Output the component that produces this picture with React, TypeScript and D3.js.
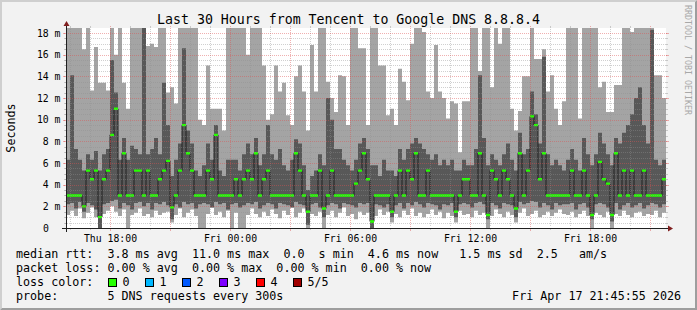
import React from "react";
import * as d3 from "d3";

const WIDTH = 697;
const HEIGHT = 310;
const PLOT = { left: 66, right: 666, top: 28, bottom: 228 };
const Y_MAX = 18.46;
const START = new Date(2026, 3, 16, 15, 48);
const END = new Date(2026, 3, 17, 21, 48);
const STEP_MIN = 12;

// round-trip times in ms, one column per 12 minutes (5 pings: min, 2nd, median, 4th, max)
const rttMedian = [
  3.0, 3.0, 3.0, 3.0, 2.0, 5.3, 4.5, 5.3, 1.0, 4.5, 5.3, 8.6, 11.0, 3.0, 6.9, 3.0, 3.0, 5.3, 5.3, 3.0, 5.3, 3.0, 3.0, 4.5, 5.3,
  6.2, 1.9, 3.0, 5.3, 9.5, 6.9, 5.3, 3.0, 3.0, 3.0, 5.3, 4.5, 8.6, 3.0, 3.0, 3.0, 3.0, 4.5, 3.0, 4.5, 5.3, 4.5, 6.9, 3.0, 4.5,
  5.3, 3.0, 3.0, 3.0, 3.0, 3.0, 3.0, 6.9, 5.3, 3.0, 1.5, 3.0, 3.0, 5.3, 1.8, 3.0, 5.3, 3.0, 3.0, 3.0, 3.0, 3.0, 4.1, 5.3, 6.9,
  4.5, 0.6, 3.0, 3.0, 3.0, 3.0, 1.5, 3.0, 5.3, 3.0, 5.3, 4.5, 6.9, 3.0, 3.0, 5.3, 3.0, 3.0, 3.0, 3.0, 3.0, 3.0, 1.5, 3.0, 4.5,
  4.5, 3.0, 3.0, 6.9, 3.0, 1.2, 5.3, 4.5, 3.0, 5.3, 4.5, 3.0, 1.8, 6.9, 3.0, 5.3, 10.3, 9.5, 4.5, 6.9, 3.0, 3.0, 3.0, 3.0, 3.0,
  3.0, 5.3, 3.0, 3.0, 5.3, 3.0, 1.2, 3.0, 6.1, 4.5, 4.1, 1.2, 6.9, 3.0, 5.3, 3.0, 5.3, 3.0, 3.0, 5.3, 3.0, 3.0, 3.0, 3.0, 4.5,
];
const rttMax = [
  19, 19, 19, 19, 16.5, 19, 12.7, 16.7, 13.4, 13.4, 12.7, 19, 16, 19, 13.4, 11, 19, 19, 19, 19, 16.8, 17, 16.7, 19, 19,
  12.5, 13, 11.5, 19, 19, 19, 19, 19, 10, 9.5, 15, 11, 11, 11, 9, 19, 19, 19, 19, 19, 16, 19, 19, 19, 15,
  10, 10.5, 15, 12.6, 13.4, 10.4, 9.5, 14, 15, 12.6, 9, 16.9, 12.6, 19, 19, 13.5, 12, 10.7, 14.1, 14, 9.5, 19, 19, 16.6, 16.6,
  9.5, 19, 19, 15, 15, 10.4, 11, 9.5, 14.7, 13.5, 11.8, 17, 19, 19, 18.1, 12.6, 12, 16.9, 12.6, 12, 10.1, 11.7, 11.5, 7, 11.7,
  11.7, 19, 19, 14.5, 19, 19, 13, 19, 17, 19, 19, 11, 9, 10.8, 14, 14, 19, 15.6, 15.6, 16.5, 12.6, 14.1, 11, 9.5, 11.7,
  19, 19, 19, 10.1, 19, 19, 19, 19, 13, 13.5, 10.7, 10.7, 13.2, 13.2, 19, 19, 18.1, 19, 19, 19, 19, 19, 14.1, 14.1, 12,
];
const rttHigh = [
  6.3, 14.1, 7.3, 6.3, 5.3, 6.8, 6.3, 7.1, 5.3, 6.8, 7.3, 15.5, 12.5, 6.3, 8.3, 6.3, 7.6, 7.3, 6.8, 18.6, 6.8, 7.3, 8.3, 6.8, 13.4,
  9.5, 4.8, 6.3, 7.8, 16.6, 9.0, 7.8, 5.3, 4.8, 5.8, 7.8, 6.3, 9.5, 5.3, 4.8, 6.3, 6.3, 6.3, 5.3, 6.8, 7.8, 6.8, 8.3, 5.8, 6.8,
  9.5, 6.8, 6.3, 7.3, 5.8, 5.3, 6.3, 8.2, 7.8, 5.8, 3.5, 4.8, 5.3, 6.8, 5.8, 12.0, 10.0, 7.3, 7.3, 6.3, 5.8, 5.3, 6.3, 7.8, 8.3,
  7.3, 5.8, 5.8, 4.8, 6.3, 5.3, 5.3, 4.8, 7.3, 6.3, 7.3, 7.8, 8.3, 7.8, 7.3, 6.8, 6.3, 6.8, 5.8, 6.3, 5.8, 6.3, 5.3, 5.3, 6.3,
  5.8, 5.8, 7.3, 14.1, 8.3, 5.8, 6.8, 6.3, 5.8, 6.8, 7.8, 6.3, 5.3, 8.8, 6.8, 7.3, 12.6, 10.5, 7.8, 15.8, 6.8, 5.8, 6.3, 5.8, 5.3,
  6.3, 7.3, 6.3, 5.3, 8.3, 6.8, 5.8, 6.8, 8.8, 7.8, 6.8, 5.8, 8.3, 7.8, 8.8, 9.5, 10.5, 12.0, 13.0, 9.5, 7.8, 18.3, 6.3, 5.8, 6.3,
];
const rttLow = [
  2.2, 2.3, 1.8, 2.4, 1.5, 2.3, 2.1, 1.7, 0.0, 2.2, 2.3, 2.5, 2.6, 1.8, 2.3, 2.1, 1.7, 2.3, 2.4, 2.0, 2.3, 1.7, 2.3, 2.2, 2.4,
  2.1, 0.8, 2.2, 1.9, 2.4, 2.2, 2.3, 1.8, 2.2, 2.3, 2.2, 1.9, 2.4, 2.2, 2.3, 1.7, 2.2, 2.3, 1.9, 2.1, 2.3, 2.2, 2.4, 1.8, 2.1,
  2.3, 2.2, 1.8, 2.3, 2.2, 2.1, 1.9, 2.4, 2.2, 2.1, 0.3, 2.2, 2.3, 1.9, 1.0, 2.1, 2.3, 2.2, 1.8, 2.3, 2.2, 2.1, 1.9, 2.3, 2.2,
  2.3, 0.0, 2.2, 2.1, 1.9, 2.2, 1.0, 2.1, 2.3, 1.8, 2.3, 2.1, 2.4, 2.2, 1.9, 2.3, 2.2, 2.1, 1.7, 2.2, 2.1, 2.3, 1.0, 2.2, 2.3,
  2.2, 1.9, 2.3, 2.4, 2.2, 0.8, 2.3, 2.1, 1.8, 2.3, 2.2, 2.1, 1.0, 2.4, 2.2, 2.3, 2.5, 2.4, 1.9, 2.3, 2.1, 1.7, 2.3, 2.1, 2.2,
  2.2, 2.3, 1.7, 2.2, 2.3, 1.9, 0.8, 2.2, 2.3, 2.2, 1.9, 0.6, 2.3, 1.7, 2.1, 2.3, 1.9, 2.1, 2.3, 1.8, 2.1, 2.3, 2.2, 1.9, 2.2,
];
const rttMin = [
  1.2, 1.6, 1.1, 1.8, 0.9, 1.4, 1.9, 1.0, 0.0, 1.3, 1.6, 2.0, 1.5, 1.1, 1.7, 0.0, 1.2, 1.4, 1.8, 1.1, 1.3, 1.0, 1.6, 1.2, 1.4,
  1.5, 0.5, 1.2, 1.8, 1.0, 1.4, 1.7, 1.1, 0.0, 0.0, 1.3, 1.9, 1.2, 1.5, 1.0, 1.6, 0.0, 1.4, 0.0, 0.0, 1.2, 1.8, 1.3, 1.0, 1.5,
  1.1, 1.7, 1.3, 0.9, 1.6, 1.2, 1.9, 1.0, 1.4, 1.8, 0.0, 1.3, 1.1, 1.5, 0.0, 1.2, 1.6, 1.0, 1.4, 1.9, 1.1, 1.3, 0.8, 1.5, 1.2,
  1.4, 0.0, 1.1, 1.7, 1.2, 1.5, 0.5, 1.3, 1.0, 1.6, 1.2, 1.8, 1.1, 1.4, 1.0, 1.3, 1.7, 1.2, 1.5, 0.9, 1.4, 1.1, 0.5, 1.6, 1.2,
  1.3, 1.0, 1.6, 1.2, 1.4, 0.0, 1.1, 1.7, 1.3, 1.0, 1.5, 1.2, 0.5, 1.4, 1.8, 1.1, 1.3, 1.6, 1.0, 1.2, 1.5, 1.1, 1.4, 1.7, 1.3,
  1.2, 1.5, 1.0, 1.3, 1.6, 1.1, 0.0, 1.4, 1.2, 1.0, 1.5, 0.0, 1.3, 1.1, 1.6, 1.2, 1.0, 1.4, 1.5, 1.1, 1.3, 1.2, 1.6, 1.0, 1.4,
];

const yTickValues = [0, 2, 4, 6, 8, 10, 12, 14, 16, 18];
const yTickLabels = ["0", "2 m", "4 m", "6 m", "8 m", "10 m", "12 m", "14 m", "16 m", "18 m"];

const titleText = "Last 30 Hours from Tencent to Google DNS 8.8.8.4";
const legendLines = [
  "median rtt:  3.8 ms avg  11.0 ms max  0.0  s min  4.6 ms now   1.5 ms sd  2.5   am/s",
  "packet loss: 0.00 % avg  0.00 % max  0.00 % min  0.00 % now",
  "loss color:",
  "probe:       5 DNS requests every 300s",
];
const lossLabels = ["0", "1", "2", "3", "4", "5/5"];
const lossColors = ["#26ff00", "#00b8ff", "#0059ff", "#7e00ff", "#ff0000", "#a00000"];
const timestampText = "Fri Apr 17 21:45:55 2026";

const MONO = "'DejaVu Sans Mono', monospace";

export default function App() {
  const x = d3.scaleTime().domain([START, END]).range([PLOT.left, PLOT.right]);
  const y = d3.scaleLinear().domain([0, Y_MAX]).range([PLOT.bottom, PLOT.top]);
  const n = rttMedian.length;
  const tAt = (i: number) => new Date(START.getTime() + i * STEP_MIN * 60000);
  const v = (arr: number[], i: number) => arr[Math.min(i, arr.length - 1)];
  const idx = d3.range(n + 1);

  const outerArea = d3
    .area<number>()
    .curve(d3.curveStepAfter)
    .x((i) => x(tAt(i)))
    .y0((i) => y(v(rttMin, i)))
    .y1((i) => y(v(rttMax, i)));
  const innerArea = d3
    .area<number>()
    .curve(d3.curveStepAfter)
    .x((i) => x(tAt(i)))
    .y0((i) => y(v(rttLow, i)))
    .y1((i) => y(v(rttHigh, i)));
  const medLine = d3
    .line<number>()
    .curve(d3.curveStepAfter)
    .x((i) => x(tAt(i)))
    .y((i) => y(v(rttMedian, i)));
  const medBand = d3
    .area<number>()
    .curve(d3.curveStepAfter)
    .x((i) => x(tAt(i)))
    .y0((i) => y(v(rttMedian, i)) + 1.2)
    .y1((i) => y(v(rttMedian, i)) - 1.2);

  const minorY = d3.range(0.5, Y_MAX, 0.5).filter((d) => Math.abs(d % 2) > 1e-9);
  const majorY = yTickValues.filter((d) => d > 0);
  const minorX = d3.timeHour.every(1)!.range(START, END).filter((d) => d.getHours() % 3 !== 0);
  const majorX = d3.timeHour.every(3)!.range(START, END);
  const labelX = d3.timeHour.every(6)!.range(START, END);
  const fmt = d3.timeFormat("%a %H:%M");

  const GRID = "rgba(143,143,143,0.42)";
  const MGRID = "rgba(222,79,79,0.45)";
  const L = PLOT.left, R = PLOT.right, T = PLOT.top, B = PLOT.bottom;
  const legendX = 16;
  const py = (d: number) => Math.round(y(d)) + 0.5;
  const px = (d: Date) => Math.round(x(d)) + 0.5;

  return (
    <svg
      width={WIDTH}
      height={HEIGHT}
      viewBox={`0 0 ${WIDTH} ${HEIGHT}`}
      style={{ position: "absolute", left: 0, top: 0, display: "block" }}
      xmlSpace="preserve"
    >
      <defs>
        <clipPath id="plotClip">
          <rect x={L} y={T} width={R - L} height={B - T} />
        </clipPath>
      </defs>
      <rect x={0} y={0} width={WIDTH} height={HEIGHT} fill="#f2f2f2" />
      <polygon points={`0,${HEIGHT} 2,${HEIGHT - 2} 2,2 ${WIDTH - 2},2 ${WIDTH},0 0,0`} fill="#cfcfcf" />
      <polygon
        points={`2,${HEIGHT - 2} ${WIDTH - 2},${HEIGHT - 2} ${WIDTH - 2},2 ${WIDTH},0 ${WIDTH},${HEIGHT} 0,${HEIGHT}`}
        fill="#9e9e9e"
      />
      <rect x={L} y={T} width={R - L} height={B - T} fill="#ffffff" />

      <g clipPath="url(#plotClip)">
        <path d={outerArea(idx) || ""} fill="#a4a4a4" />
        <path d={innerArea(idx) || ""} fill="#585858" />
        <path d={medLine(idx) || ""} fill="none" stroke="#202020" strokeWidth={1} />
        <path d={medBand(idx) || ""} fill={lossColors[0]} />
      </g>

      {/* grid */}
      <g shapeRendering="crispEdges">
        {minorY.map((d) => (
          <g key={"my" + d}>
            <line x1={L - 1} x2={R + 1} y1={py(d)} y2={py(d)} stroke={GRID} strokeDasharray="1,1" />
            <line x1={L - 2} x2={L} y1={py(d)} y2={py(d)} stroke={GRID} />
            <line x1={R} x2={R + 2} y1={py(d)} y2={py(d)} stroke={GRID} />
          </g>
        ))}
        {minorX.map((d) => (
          <g key={"mx" + d.getTime()}>
            <line x1={px(d)} x2={px(d)} y1={T + 1} y2={B - 1} stroke={GRID} strokeDasharray="1,1" />
            <line x1={px(d)} x2={px(d)} y1={B} y2={B + 2} stroke={GRID} />
            <line x1={px(d)} x2={px(d)} y1={T - 2} y2={T} stroke={GRID} />
          </g>
        ))}
        {majorY.map((d) => (
          <g key={"My" + d}>
            <line x1={L - 2} x2={R + 2} y1={py(d)} y2={py(d)} stroke={MGRID} strokeDasharray="1,1" />
            <line x1={L - 3} x2={L} y1={py(d)} y2={py(d)} stroke={MGRID} />
            <line x1={R} x2={R + 3} y1={py(d)} y2={py(d)} stroke={MGRID} />
          </g>
        ))}
        {majorX.map((d) => (
          <g key={"Mx" + d.getTime()}>
            <line x1={px(d)} x2={px(d)} y1={T - 2} y2={B} stroke={MGRID} strokeDasharray="1,1" />
            <line x1={px(d)} x2={px(d)} y1={B} y2={B + 3} stroke={MGRID} />
          </g>
        ))}
      </g>

      {/* axes */}
      <g shapeRendering="crispEdges">
        <line x1={L - 4} x2={R + 4} y1={B + 0.5} y2={B + 0.5} stroke="#1f1f1f" />
        <line x1={L + 0.5} x2={L + 0.5} y1={B + 4} y2={T - 4} stroke="#1f1f1f" />
      </g>
      <polygon points={`${R + 2},${B - 2.5} ${R + 2},${B + 3.5} ${R + 7},${B + 0.5}`} fill="#801f1f" />
      <polygon points={`${L - 2.5},${T - 2} ${L + 3.5},${T - 2} ${L + 0.5},${T - 7}`} fill="#801f1f" />

      {/* axis labels */}
      <g fontFamily={MONO} fontSize={9.8} fill="#000">
        {yTickValues.map((d, i) => (
          <text key={"yl" + d} x={d === 0 ? 49 : 60.5} y={y(d) + 3.6} textAnchor="end">
            {yTickLabels[i]}
          </text>
        ))}
        {labelX.map((d) => (
          <text key={"xl" + d.getTime()} x={x(d) + 0.5} y={241.5} textAnchor="middle">
            {fmt(d)}
          </text>
        ))}
      </g>

      {/* title */}
      <text x={348.5} y={23.5} textAnchor="middle" fontFamily={MONO} fontSize={13.25} fill="#000">
        {titleText}
      </text>

      {/* y axis title */}
      <text
        transform={`translate(15,${(T + B) / 2}) rotate(-90)`}
        textAnchor="middle"
        fontFamily={MONO}
        fontSize={11.7}
        fill="#000"
      >
        Seconds
      </text>

      {/* watermark */}
      <text transform={`translate(684.5,5) rotate(90)`} textAnchor="start" fontFamily={MONO} fontSize={8.3} fill="#a8a8a8">
        RRDTOOL / TOBI OETIKER
      </text>

      {/* legend */}
      <g fontFamily={MONO} fontSize={11.7} fill="#000" style={{ whiteSpace: "pre" }}>
        {legendLines.map((s, i) => (
          <text key={"lg" + i} x={legendX} y={258.3 + i * 14} xmlSpace="preserve">
            {s}
          </text>
        ))}
        {lossLabels.map((lab, i) => (
          <g key={"loss" + lab}>
            <rect
              x={108.5 + i * 37}
              y={278.5}
              width={8}
              height={8}
              fill={lossColors[i]}
              stroke="#000"
              strokeWidth={1}
              shapeRendering="crispEdges"
            />
            <text x={122.5 + i * 37} y={286.3}>
              {lab}
            </text>
          </g>
        ))}
        <text x={WIDTH - 16} y={300.3} textAnchor="end">
          {timestampText}
        </text>
      </g>
    </svg>
  );
}
